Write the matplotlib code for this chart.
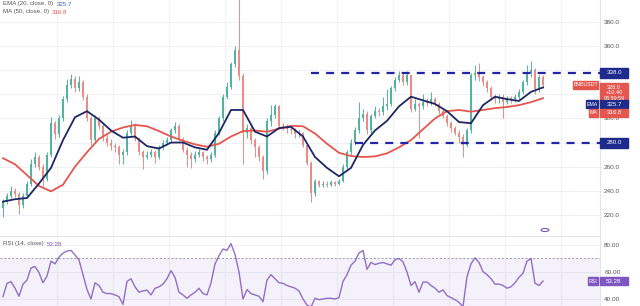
import numpy as np
import matplotlib
matplotlib.use("Agg")
import matplotlib.pyplot as plt
from matplotlib.patches import Rectangle, Circle

plt.rcParams['font.family'] = ['Liberation Sans', 'DejaVu Sans']

# daily candles, open of each day = previous close
first_open = 226
closes = [231, 236, 240, 237, 228, 236, 246, 262, 268, 260,
          250, 270, 296, 287, 300, 316, 328, 333, 325, 330,
          318, 300, 282, 300, 294, 284, 280, 277, 276, 270,
          272, 288, 294, 283, 272, 268, 270, 272, 268, 276,
          280, 282, 290, 294, 283, 274, 270, 266, 270, 272,
          268, 266, 270, 288, 300, 318, 326, 345, 357, 335,
          288, 292, 282, 276, 268, 256, 298, 303, 310, 294,
          293, 291, 290, 287, 288, 278, 263, 238, 248, 245,
          246, 245, 247, 246, 248, 260, 272, 280, 290, 300,
          304, 290, 302, 306, 305, 310, 312, 325, 332, 336,
          330, 336, 308, 312, 310, 314, 313, 316, 312, 306,
          302, 296, 292, 288, 285, 278, 290, 336, 338, 334,
          330, 325, 318, 316, 318, 314, 317, 316, 318, 322,
          330, 338, 340, 324, 334, 328]
highs = [233, 238, 244, 242, 239, 238, 248, 266, 272, 270,
         262, 272, 301, 298, 303, 319, 333, 337, 335, 335,
         332, 320, 302, 303, 302, 296, 286, 283, 280, 278,
         275, 290, 299, 296, 285, 274, 273, 275, 274, 278,
         282, 285, 292, 297, 295, 285, 276, 272, 273, 275,
         273, 270, 272, 290, 302, 320, 330, 347, 360, 400,
         338, 295, 294, 284, 278, 270, 300, 311, 312, 311,
         296, 295, 293, 292, 290, 289, 280, 265, 250, 249,
         248, 248, 249, 248, 250, 262, 274, 283, 293, 314,
         308, 306, 304, 310, 309, 318, 324, 327, 334, 339,
         338, 339, 337, 316, 314, 320, 317, 322, 318, 314,
         308, 304, 298, 294, 290, 287, 292, 338, 344, 346,
         336, 332, 327, 320, 320, 320, 319, 319, 320, 324,
         332, 344, 348, 342, 336, 336]
lows = [218, 229, 234, 235, 221, 226, 234, 244, 260, 257,
        244, 248, 268, 283, 285, 298, 314, 325, 322, 323,
        315, 298, 278, 280, 291, 281, 277, 274, 272, 262,
        262, 270, 286, 281, 270, 258, 266, 268, 263, 266,
        274, 278, 280, 288, 281, 272, 260, 259, 264, 268,
        265, 262, 264, 268, 286, 298, 316, 324, 343, 332,
        262, 284, 279, 268, 265, 250, 254, 294, 300, 292,
        290, 288, 287, 284, 285, 276, 261, 231, 236, 243,
        243, 243, 244, 244, 245, 247, 258, 270, 278, 288,
        298, 287, 288, 300, 302, 303, 307, 310, 323, 330,
        328, 328, 305, 306, 284, 308, 310, 311, 310, 304,
        300, 294, 289, 286, 280, 268, 276, 288, 332, 331,
        327, 322, 315, 313, 313, 300, 312, 313, 314, 316,
        320, 328, 334, 320, 322, 325]

# moving averages, read every 3rd day
avg_step = 3
ema20 = [231, 233, 234, 246, 259, 282, 301, 306, 299, 290,
         284, 285, 277, 275, 280, 280, 276, 274, 288, 307,
         307, 289, 285, 292, 293, 285, 268, 259, 252, 259,
         278, 290, 298, 310, 318, 315, 312, 306, 297, 296,
         311, 318, 316, 314.5, 322, 325.7]
ma50 = [267, 262, 253, 244, 239.5, 245, 260, 272, 283, 289,
        292.5, 294.6, 293.5, 289.5, 285, 281.5, 278.5, 276.5, 279, 285,
        289.5, 290, 289, 291.5, 293.8, 293.5, 287.5, 279, 271.5, 268.8,
        268, 268.5, 271, 276, 282, 291, 300, 306, 307, 305.6,
        307, 308.5, 309.5, 311, 313.5, 316.8]

rsi14 = [41.7, 51.6, 52.8, 48, 42, 51, 54, 63, 64, 59.5,
         52, 57, 68, 66, 71, 74, 75.5, 76, 72.6, 69,
         58, 47, 40, 52, 50, 45, 44, 44, 43, 41.7,
         36, 53, 55, 49, 45, 46, 46.5, 43, 47.9, 49,
         51, 55, 61, 56, 45, 43, 40.5, 43, 45, 47.9,
         44, 43, 52, 66, 72, 77, 76, 81, 73, 60,
         40, 47, 44, 43, 42, 38, 54, 58, 55, 52,
         51.6, 50, 49, 48, 46, 40, 35.5, 34, 40.5, 39.5,
         40, 40.5, 40.5, 40, 41, 53, 58, 65, 68, 74,
         76, 62, 67, 65.5, 66.4, 67, 66, 65, 69, 70,
         67.5, 60, 50, 52.8, 45, 52.5, 52.5, 50, 48, 45,
         46.7, 42.5, 41, 39.5, 37.5, 34.3, 56.5, 66, 70.5, 67,
         60.3, 58, 55, 51, 51, 50, 48, 49, 52, 56,
         59, 68, 70, 51.6, 50, 53.28]

# visible scale labels (the others sit behind the price tags)
price_ticks = [220, 240, 260, 300, 360, 380]
grid_prices = [220, 240, 260, 280, 300, 320, 340, 360, 380]
rsi_ticks = [40, 60, 80]
resistance, res_from = 338.0, 77
support, sup_from = 280.0, 88

up_col = '#52b3a2'
dn_col = '#ec8b85'
navy = '#1e2a8c'
line_navy = '#1d2766'
red = '#e4574f'
purple = '#7e57c2'
grid_col = '#eef0f5'

n = len(closes)
idx = np.arange(n)
closes_a = np.array(closes, float)
opens = np.r_[first_open, closes_a[:-1]]
rising = closes_a >= opens

fig = plt.figure(figsize=(6.4, 3.06), dpi=100)
ax = fig.add_axes([0, 70 / 306, 600 / 640, 236 / 306])
axr = fig.add_axes([0, 0, 600 / 640, 69 / 306])

x_lo, x_hi = -0.75, 149.25
grid_x = np.arange(13.5, x_hi, 14)

for a in (ax, axr):
    a.set_xlim(x_lo, x_hi)
    a.set_xticks(grid_x)
    a.tick_params(axis='x', length=0, labelbottom=False)
    a.grid(True, axis='x', color=grid_col, lw=0.7)
    a.set_axisbelow(True)
    for s in ('top', 'left', 'bottom'):
        a.spines[s].set_visible(False)
    a.spines['right'].set_color('#e3e5ea')
    a.spines['right'].set_linewidth(0.8)
    a.yaxis.tick_right()
    a.tick_params(axis='y', length=0, pad=3, labelsize=4.6, labelcolor='#555555')

# ---- price pane
ax.spines['bottom'].set_visible(True)
ax.spines['bottom'].set_color('#e3e5ea')
ax.set_ylim(202.5, 398.2)
ax.set_yticks(price_ticks)
ax.set_yticklabels([f'{v:.1f}' for v in price_ticks])
for gp in grid_prices:
    ax.axhline(gp, color=grid_col, lw=0.7, zorder=0)

colors = np.where(rising, up_col, dn_col)
ax.vlines(idx, lows, highs, colors=colors, lw=0.7, zorder=2)
body_lo = np.minimum(opens, closes_a)
body_h = np.maximum(np.abs(closes_a - opens), 0.8)
ax.bar(idx, body_h, bottom=body_lo, width=0.58, color=colors, lw=0, zorder=2)

avg_x = idx[::avg_step]
ax.plot(avg_x, ma50, color=red, lw=1.3, zorder=3)
ax.plot(avg_x, ema20, color=line_navy, lw=1.3, zorder=4)

dash = (0, (3.6, 3.2))
ax.hlines(resistance, res_from, x_hi, colors='#2424a8', lw=1.6, linestyles=[dash], zorder=5)
ax.hlines(support, sup_from, x_hi, colors='#2424a8', lw=1.6, linestyles=[dash], zorder=5)

# ---- rsi pane
axr.set_ylim(34.8, 85.9)
axr.set_yticks(rsi_ticks)
axr.set_yticklabels([f'{v:.2f}' for v in rsi_ticks])
axr.grid(True, axis='y', color=grid_col, lw=0.7)
axr.axhspan(30, 70, color=purple, alpha=0.08, lw=0)
axr.axhline(70, color='#9a9aa8', lw=0.7, ls=(0, (2, 2)))
axr.plot(idx, rsi14, color=purple, lw=1.0, alpha=0.85)

# ---- price tags on the right scale
ytr = ax.get_yaxis_transform()
ytr_r = axr.get_yaxis_transform()
ppx = 1.206  # pixels per price unit
rpx = 1.35


def tag(axis, trans, per_px, yc, txt, col, x0, x1, h_px, fs=4.4):
    h = h_px / per_px
    axis.add_patch(Rectangle((x0 / 600, yc - h / 2), (x1 - x0) / 600, h,
                             transform=trans, color=col, clip_on=False, zorder=10))
    axis.text((x0 + x1) / 1200, yc, txt, transform=trans, color='white',
              fontsize=fs, ha='center', va='center', clip_on=False, zorder=11,
              linespacing=1.1)


tag(ax, ytr, ppx, resistance, f'{resistance:.1f}', navy, 600, 628, 10)
tag(ax, ytr, ppx, support, f'{support:.1f}', navy, 600, 628, 10)
last = closes[-1]
tag(ax, ytr, ppx, last - 8 / ppx, f'{last:.1f}\n+10.40\n06:59:59', red, 600, 628, 20, fs=4.0)
tag(ax, ytr, ppx, last, 'BNBUSDT', red, 573, 598, 8, fs=3.8)
tag(ax, ytr, ppx, 311.8, 'EMA', navy, 586, 598, 8, fs=3.8)
tag(ax, ytr, ppx, 311.8, f'{ema20[-1]:.1f}', navy, 600, 628, 8)
tag(ax, ytr, ppx, 304.5, 'MA', red, 589, 598, 8, fs=3.8)
tag(ax, ytr, ppx, 304.5, f'{ma50[-1]:.1f}', red, 600, 628, 8)
tag(axr, ytr_r, rpx, rsi14[-1], 'RSI', purple, 588, 598, 8, fs=3.8)
tag(axr, ytr_r, rpx, rsi14[-1], f'{rsi14[-1]:.2f}', purple, 600, 628, 8)

# small event marker near bottom of price pane
ax.add_patch(Circle((545 / 600, 6 / 236), 0.0065, transform=ax.transAxes,
                    fill=False, ec=purple, lw=0.8, clip_on=False, zorder=6))

# ---- legends (two-colour lines)
fig.canvas.draw()
renderer = fig.canvas.get_renderer()


def legend_line(y_px, label, value, vcol):
    t = fig.text(3 / 640, 1 - y_px / 306, label, fontsize=4.4, color='#555555',
                 va='center', ha='left')
    bb = t.get_window_extent(renderer)
    fig.text((bb.x1 + 3) / 640, 1 - y_px / 306, value, fontsize=4.4, color=vcol,
             va='center', ha='left')


legend_line(4, 'EMA (20, close, 0)', f'{ema20[-1]:.1f}', '#3b5bdb')
legend_line(12, 'MA (50, close, 0)', f'{ma50[-1]:.1f}', red)
legend_line(244, 'RSI (14, close)', f'{rsi14[-1]:.2f}', purple)

fig.savefig('out.png', dpi=100, facecolor='white')
